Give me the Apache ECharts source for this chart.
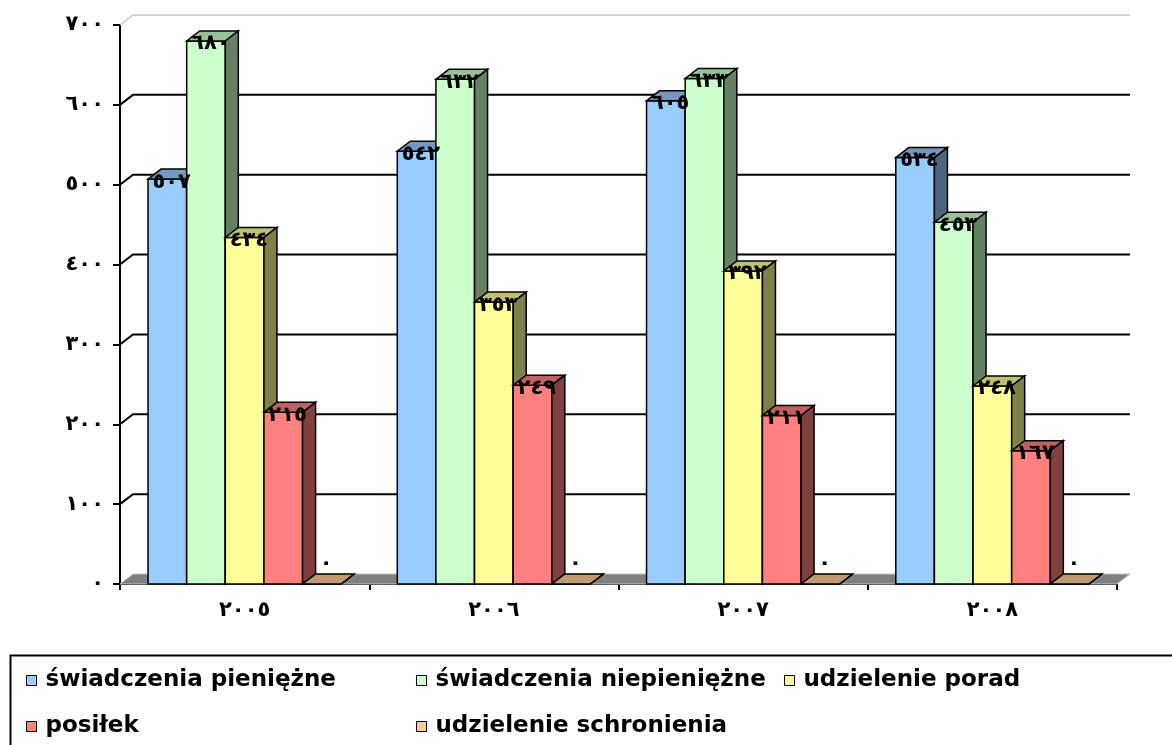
<!DOCTYPE html>
<html>
<head>
<meta charset="utf-8">
<script src="https://cdn.jsdelivr.net/npm/echarts@6/dist/echarts.min.js"></script>
<style>
  html, body { margin: 0; padding: 0; background: #fff; }
  #chart { width: 1172px; height: 745px; }
</style>
</head>
<body>
<div id="chart"></div>
<script>
var years = ['2005', '2006', '2007', '2008'];
var names = ['świadczenia pieniężne', 'świadczenia niepieniężne', 'udzielenie porad', 'posiłek', 'udzielenie schronienia'];
var pieniezne = [507, 542, 605, 534];
var niepieniezne = [680, 632, 633, 453];
var porady = [434, 353, 392, 248];
var posilek = [215, 249, 211, 167];
var schronienie = [0, 0, 0, 0];
var yTicks = [0, 100, 200, 300, 400, 500, 600, 700];

// front, top, side
var colors = [
  ['#99ccff', '#7399c0', '#4d6680'],
  ['#ccffcc', '#99c099', '#668066'],
  ['#ffff99', '#c0c073', '#80804d'],
  ['#ff8080', '#c06060', '#804040'],
  ['#ffcc99', '#c09973', '#806650']
];
var DX = 13, DY = 10;
var digitFont = 'DejaVu Sans';

function arabic(n) {
  return String(n).replace(/\d/g, function (d) { return '٠١٢٣٤٥٦٧٨٩'[d]; });
}

function makeBar(s) {
  return function (params, api) {
    var cat = api.value(0), val = api.value(1);
    var base = api.coord([cat, 0]);
    var top = api.coord([cat, val]);
    var band = api.size([1, 0])[0];
    var bw = band * 0.155;
    var x0 = base[0] - bw * 2.5 + s * bw;
    var x1 = x0 + bw, ty = top[1], by = base[1];
    var c = colors[s];
    var st = { stroke: '#000', lineWidth: 1.5 };
    return {
      type: 'group',
      children: [
        { type: 'rect', z2: s * 3, shape: { x: x0, y: ty, width: bw, height: by - ty },
          style: Object.assign({ fill: c[0] }, st) },
        { type: 'polygon', z2: s * 3 + 1, shape: { points: [[x0, ty], [x1, ty], [x1 + DX, ty - DY], [x0 + DX, ty - DY]] },
          style: Object.assign({ fill: c[1] }, st) },
        { type: 'polygon', z2: s * 3 + 2, shape: { points: [[x1, ty], [x1 + DX, ty - DY], [x1 + DX, by - DY], [x1, by]] },
          style: Object.assign({ fill: c[2] }, st) },
        { type: 'text', z2: 100, style: { x: x0 + bw / 2 + DX / 3, y: Math.min(ty + 3, by - 20), text: arabic(val),
          align: 'center', verticalAlign: 'middle', fill: '#000',
          font: 'bold 21px "' + digitFont + '"' } }
      ]
    };
  };
}

var seriesData = [pieniezne, niepieniezne, porady, posilek, schronienie];
var series = [];

// back wall grid lines and floor
series.push({
  type: 'custom', z: 1, silent: true, clip: false,
  data: yTicks.map(function (v) { return [0, v]; }),
  renderItem: function (params, api) {
    var cs = params.coordSys;
    var y = api.coord([0, api.value(1)])[1];
    var v = api.value(1);
    if (v === 0) {
      return { type: 'polygon', shape: { points: [[cs.x, y], [cs.x + cs.width, y], [cs.x + cs.width + DX, y - DY], [cs.x + DX, y - DY]] },
        style: { fill: '#808080', stroke: '#c0c0c0', lineWidth: 1 } };
    }
    var top = v === yTicks[yTicks.length - 1];
    return { type: 'polyline', shape: { points: [[cs.x, y], [cs.x + DX, y - DY], [cs.x + cs.width + DX, y - DY]] },
      style: { fill: null, stroke: top ? '#c8c8c8' : '#000', lineWidth: top ? 1.5 : 2 } };
  }
});

seriesData.forEach(function (arr, s) {
  series.push({
    name: names[s], type: 'custom', z: 3, clip: false,
    itemStyle: { color: colors[s][0] },
    data: arr.map(function (v, i) { return [i, v]; }),
    renderItem: makeBar(s)
  });
});

var legendBase = {
  orient: 'vertical', top: 669, padding: 0, itemGap: 23, itemWidth: 10, itemHeight: 10,
  icon: 'rect', selectedMode: false,
  itemStyle: { borderColor: '#000', borderWidth: 1 },
  textStyle: { fontFamily: 'DejaVu Sans', fontWeight: 'bold', fontSize: 23, color: '#000', lineHeight: 20, padding: [0, 0, 0, 4] }
};

var chart = echarts.init(document.getElementById('chart'));
chart.setOption({
  animation: false,
  backgroundColor: '#fff',
  grid: { left: 120, right: 55, top: 25, bottom: 161 },
  xAxis: {
    type: 'category', data: years,
    axisLine: { lineStyle: { color: '#000', width: 2 } },
    axisTick: { show: true, length: 6, lineStyle: { color: '#000', width: 2 } },
    axisLabel: { margin: 16, color: '#000', fontFamily: digitFont, fontWeight: 'bold', fontSize: 21, formatter: arabic }
  },
  yAxis: {
    type: 'value', min: 0, max: 700, interval: 100,
    splitLine: { show: false },
    axisLine: { show: true, lineStyle: { color: '#000', width: 2 } },
    axisTick: { show: true, length: 7, lineStyle: { color: '#000', width: 2 } },
    axisLabel: { margin: 16, color: '#000', fontFamily: digitFont, fontWeight: 'bold', fontSize: 21, formatter: arabic }
  },
  legend: [
    Object.assign({}, legendBase, { left: 26, data: [names[0], names[3]] }),
    Object.assign({}, legendBase, { left: 416, data: [names[1], names[4]] }),
    Object.assign({}, legendBase, { left: 784, data: [names[2]] })
  ],
  graphic: [{
    type: 'rect', left: 8, top: 653, silent: true,
    shape: { x: 0, y: 0, width: 1180, height: 110 },
    style: { fill: null, stroke: '#000', lineWidth: 2 }
  }],
  series: series
});
</script>
</body>
</html>
